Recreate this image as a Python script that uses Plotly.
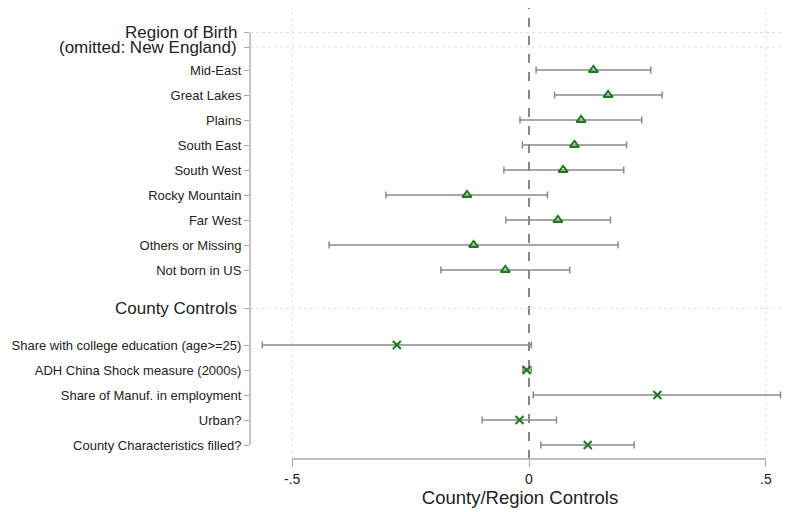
import plotly.graph_objects as go

# ---- data ----
region_labels = ["Mid-East", "Great Lakes", "Plains", "South East", "South West",
                 "Rocky Mountain", "Far West", "Others or Missing", "Not born in US"]
region_coef = [0.136, 0.167, 0.110, 0.096, 0.072, -0.131, 0.061, -0.117, -0.050]
region_lo = [0.015, 0.054, -0.019, -0.014, -0.053, -0.302, -0.049, -0.422, -0.186]
region_hi = [0.257, 0.281, 0.238, 0.206, 0.200, 0.039, 0.172, 0.188, 0.086]

county_labels = ["Share with college education (age>=25)", "ADH China Shock measure (2000s)",
                 "Share of Manuf. in employment", "Urban?", "County Characteristics filled?"]
county_coef = [-0.279, -0.005, 0.271, -0.020, 0.124]
county_lo = [-0.563, -0.013, 0.009, -0.099, 0.025]
county_hi = [0.005, 0.005, 0.531, 0.058, 0.222]

headings = ["Region of Birth", "(omitted: New England)", "County Controls"]
xtick_vals = [-0.5, 0, 0.5]
xtick_text = ["-.5", "0", ".5"]

# ---- layout positions ----
region_y = [i + 1 for i in range(len(region_labels))]
county_y = [12 + i for i in range(len(county_labels))]
heading_y = [-0.5, 0.08, 10.54]
yrange = [16.56, -1.48]
xrange = [-0.589, 0.551]

green = "#1b7a1b"
gray = "#8a8a8a"
grid = "#dedede"
font_fam = "Liberation Sans, Arial, sans-serif"

fig = go.Figure()

def add_series(xs, ys, lo, hi, symbol, size):
    fig.add_trace(go.Scatter(
        x=xs, y=ys, mode="markers",
        marker=dict(symbol=symbol, size=size, color=green,
                    line=dict(color=green, width=2)),
        error_x=dict(type="data", symmetric=False,
                     array=[h - c for h, c in zip(hi, xs)],
                     arrayminus=[c - l for c, l in zip(xs, lo)],
                     color=gray, thickness=1.5, width=3.5),
        showlegend=False, hoverinfo="skip"))

# reference line at zero (drawn below markers)
fig.add_shape(type="line", xref="x", yref="paper", x0=0, x1=0, y0=0, y1=1,
              line=dict(color="#7a7a7a", width=1.8, dash="dash"), layer="below")
# vertical dotted gridlines
for v in [-0.5, 0.5]:
    fig.add_shape(type="line", xref="x", yref="paper", x0=v, x1=v, y0=0, y1=1,
                  line=dict(color=grid, width=1, dash="dot"), layer="below")
# horizontal dotted gridlines at headings
for hy in heading_y:
    fig.add_shape(type="line", xref="paper", yref="y", x0=0, x1=1, y0=hy, y1=hy,
                  line=dict(color=grid, width=1, dash="dot"), layer="below")
# y axis line (spanning first to last tick)
fig.add_shape(type="line", xref="paper", yref="y", x0=0, x1=0,
              y0=heading_y[0], y1=county_y[-1],
              line=dict(color="#a8a8a8", width=1.3))
# x axis line (spanning -.5 to .5)
fig.add_shape(type="line", xref="x", yref="paper", x0=-0.5, x1=0.5, y0=0, y1=0,
              line=dict(color="#a8a8a8", width=1.3))

add_series(region_coef, region_y, region_lo, region_hi, "triangle-up-open", 8)
add_series(county_coef, county_y, county_lo, county_hi, "x-thin-open", 8)

# heading labels
for txt, hy in zip(headings, heading_y):
    fig.add_annotation(text=txt, xref="paper", yref="y", x=0, y=hy,
                       xanchor="right", yanchor="middle", xshift=-11, showarrow=False,
                       font=dict(family=font_fam, size=17, color="#222222"))

# page body has an 8px margin, so the figure is sized to end at the window edge
fig.update_layout(
    width=782, height=504,
    margin=dict(l=242, r=0, t=0, b=53),
    paper_bgcolor="white", plot_bgcolor="white",
    xaxis=dict(range=xrange, tickvals=xtick_vals, ticktext=xtick_text,
               showgrid=False, zeroline=False, showline=False,
               ticks="outside", ticklen=7, tickcolor="#a8a8a8", tickwidth=1.3,
               tickfont=dict(family=font_fam, size=14, color="#222222"),
               title=dict(text="County/Region Controls", standoff=4,
                          font=dict(family=font_fam, size=18.5, color="#222222"))),
    yaxis=dict(range=yrange,
               tickvals=heading_y[:2] + region_y + [heading_y[2]] + county_y,
               ticktext=["", ""] + region_labels + [""] + county_labels,
               showgrid=False, zeroline=False, showline=False,
               ticks="outside", ticklen=5, tickcolor="#a8a8a8", tickwidth=1.3,
               tickfont=dict(family=font_fam, size=13, color="#222222")),
)

fig.write_html("out.html")
